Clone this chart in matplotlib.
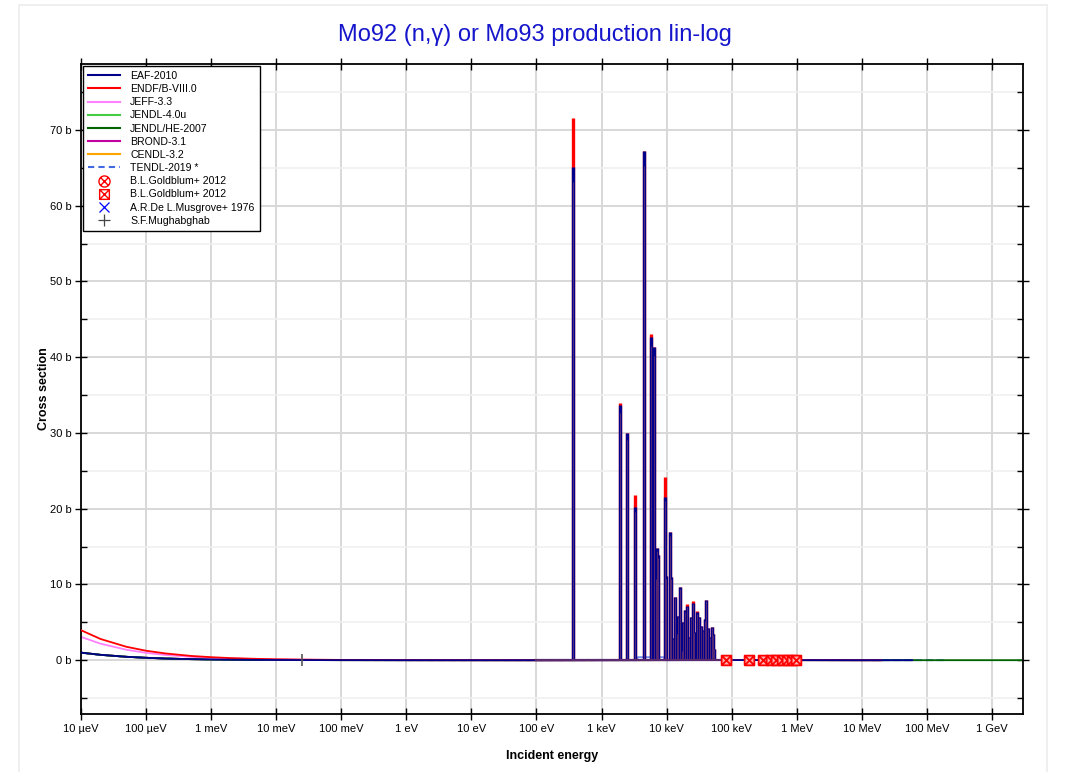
import matplotlib
matplotlib.use("Agg")
import matplotlib.pyplot as plt
from matplotlib.path import Path
from matplotlib.patches import Rectangle
from matplotlib.ticker import FixedLocator, MultipleLocator, NullLocator

plt.rcParams["font.family"] = ["Liberation Sans", "DejaVu Sans"]

# low-energy (1/v) part, in eV and barns
E_LOW = [1e-5, 2e-5, 5e-5, 1e-4, 2e-4, 5e-4, 1e-3, 2e-3, 5e-3, 1e-2, 2.53e-2, 0.1, 1.0, 10.0, 100.0]
ENDF_LOW = [3.96, 2.8, 1.77, 1.25, 0.89, 0.56, 0.40, 0.28, 0.18, 0.125, 0.079, 0.04, 0.0125, 0.004, 0.0015]
JEFF_LOW = [3.08, 2.18, 1.38, 0.97, 0.69, 0.44, 0.31, 0.22, 0.14, 0.097, 0.061, 0.031, 0.0097, 0.003, 0.001]
EAF_LOW = [1.0, 0.71, 0.45, 0.32, 0.22, 0.14, 0.10, 0.071, 0.045, 0.032, 0.02, 0.01, 0.003, 0.001, 0.0003]

# smooth part above the resonances
E_HIGH = [1e5, 1e6, 1e7, 2e7, 6e7, 2e8, 3e9]
SIG_HIGH = [0.02, 0.01, 0.002, 0.001, 0.001, 0.001, 0.001]

# upper energy of each evaluation
END_E = {
    "EAF-2010": 6e7,
    "ENDF/B-VIII.0": 2e7,
    "JEFF-3.3": 2e7,
    "JENDL-4.0u": 2e7,
    "JENDL/HE-2007": 3e9,
    "BROND-3.1": 2e7,
    "CENDL-3.2": 2e7,
    "TENDL-2019 *": 2e8,
}

# resolved resonances (eV) and their peak values (b)
RES_E = [367, 1941, 2426, 3221, 4538, 5816, 6310, 6776, 7185, 7447, 9424, 9772,
         11120, 11800, 12370, 13590, 14590, 15110, 16220, 17010, 18050, 19150,
         20320, 21800, 23400, 25120, 26660, 29650, 31840, 34150, 36640, 38430,
         40760, 42740, 45900, 49240, 51640, 53500]
EAF_PEAK = [65.1, 33.7, 30.0, 20.2, 67.2, 42.7, 41.4, 11.0, 14.8, 13.9, 21.6, 11.1,
            16.9, 11.0, 2.9, 8.4, 3.6, 5.9, 9.7, 1.2, 5.1, 6.6,
            7.2, 3.0, 5.7, 7.6, 3.7, 6.3, 5.7, 4.5, 4.0, 5.4,
            8.0, 4.2, 3.0, 4.4, 3.4, 1.5]
ENDF_PEAK = [71.6, 34.0, 30.0, 21.8, 67.2, 43.1, 41.4, 11.0, 14.8, 13.9, 24.2, 11.1,
             16.9, 11.0, 2.9, 8.4, 3.6, 5.9, 9.7, 1.2, 5.1, 6.6,
             7.4, 3.0, 5.7, 7.8, 3.7, 6.5, 5.7, 4.5, 4.0, 5.4,
             8.0, 4.2, 3.0, 4.4, 3.4, 1.5]

# TENDL averaged curve in the resonance region
TENDL_MID_E = [100, 3500, 3600, 9000, 9500, 1e5]
TENDL_MID = [0.0015, 0.0015, 0.4, 0.4, 0.0, 0.02]

# experimental points
GOLD_SQ_E = [8.1e4, 1.83e5, 3.0e5, 3.98e5, 4.75e5, 5.88e5, 7.02e5, 8.38e5, 9.66e5]
GOLD_SQ = [0.05, 0.05, 0.05, 0.05, 0.05, 0.05, 0.05, 0.05, 0.05]
MUGH_E = [0.0253]
MUGH = [0.06]

X_TICKS = [1e-5, 1e-4, 1e-3, 1e-2, 1e-1, 1, 10, 100, 1e3, 1e4, 1e5, 1e6, 1e7, 1e8, 1e9]
X_LABELS = ["10 µeV", "100 µeV", "1 meV", "10 meV", "100 meV", "1 eV", "10 eV", "100 eV",
            "1 keV", "10 keV", "100 keV", "1 MeV", "10 MeV", "100 MeV", "1 GeV"]
Y_TICKS = [0, 10, 20, 30, 40, 50, 60, 70]

COLORS = {
    "EAF-2010": "#00008b",
    "ENDF/B-VIII.0": "#ff0000",
    "JEFF-3.3": "#ff80ff",
    "JENDL-4.0u": "#44cc44",
    "JENDL/HE-2007": "#006400",
    "BROND-3.1": "#c000a0",
    "CENDL-3.2": "#ffa500",
    "TENDL-2019 *": "#4169e1",
}


def _curve(low, end):
    e = list(E_LOW) + [x for x in E_HIGH if x <= end]
    s = list(low) + [v for x, v in zip(E_HIGH, SIG_HIGH) if x <= end]
    if e[-1] < end:
        e.append(end)
        s.append(SIG_HIGH[-1])
    return e, s


def _marker_boxx():
    return Path.make_compound_path(
        Path([[-1, -1], [1, -1], [1, 1], [-1, 1], [-1, -1]]),
        Path([[-1, -1], [1, 1]]),
        Path([[-1, 1], [1, -1]]),
    )


def _marker_circx():
    return Path.make_compound_path(
        Path.unit_circle(),
        Path([[-0.707, -0.707], [0.707, 0.707]]),
        Path([[-0.707, 0.707], [0.707, -0.707]]),
    )


fig = plt.figure(figsize=(10.67, 7.72), dpi=100)
fig.patches.append(Rectangle((19 / 1067, -0.1), 1028 / 1067, 1.1 - 5 / 772, transform=fig.transFigure,
                             fill=False, edgecolor="#ececec", linewidth=1.2))
ax = fig.add_axes([81 / 1067, 1 - 714 / 772, 942 / 1067, 650 / 772])

order = ["CENDL-3.2", "BROND-3.1", "JENDL-4.0u", "TENDL-2019 *", "JENDL/HE-2007", "JEFF-3.3", "ENDF/B-VIII.0", "EAF-2010"]
lows = {"ENDF/B-VIII.0": ENDF_LOW, "JEFF-3.3": JEFF_LOW}
for z, name in enumerate(order):
    e, s = _curve(lows.get(name, EAF_LOW), END_E[name])
    ls = (0, (4, 2)) if name == "TENDL-2019 *" else "-"
    ax.plot(e, s, color=COLORS[name], lw=1.3, ls=ls, zorder=2 + z * 0.1)

ax.plot(TENDL_MID_E, TENDL_MID, color="#6f8ff0", lw=1.3, zorder=2.5)
ax.vlines(RES_E, 0, ENDF_PEAK, colors=COLORS["ENDF/B-VIII.0"], lw=2.4, zorder=3)
ax.vlines(RES_E, 0, EAF_PEAK, colors=COLORS["EAF-2010"], lw=2.4, zorder=3.1)
ax.vlines(RES_E, 0, [p * 0.97 for p in EAF_PEAK], colors="#7a3a6a", lw=0.5, zorder=3.2)
ax.plot(E_LOW[-1:] + E_HIGH[:1], [0.001, 0.001], color="#5a2a70", lw=1.6, zorder=3.3)

ax.plot(GOLD_SQ_E, GOLD_SQ, ls="none", marker=_marker_boxx(), ms=7, mfc="#ffb0b0", mec="red", mew=1.3, zorder=4)
ax.plot(MUGH_E, MUGH, ls="none", marker="|", ms=9, color="#555555", mew=1.2, zorder=4)

ax.set_xscale("log")
ax.set_xlim(1e-5, 3e9)
ax.set_ylim(-7.1, 78.7)
ax.xaxis.set_major_locator(FixedLocator(X_TICKS))
ax.set_xticklabels(X_LABELS)
ax.xaxis.set_minor_locator(NullLocator())
ax.set_yticks(Y_TICKS)
ax.set_yticklabels([f"{v} b" for v in Y_TICKS])
ax.yaxis.set_minor_locator(MultipleLocator(5))
ax.grid(which="major", color="#d8d8d8", lw=1.4, zorder=0)
ax.grid(which="minor", axis="y", color="#f0f0f0", lw=1.2, zorder=0)
ax.set_axisbelow(True)
ax.tick_params(which="major", direction="inout", length=8, width=1.0, labelsize=8, top=True, right=True, pad=3)
ax.tick_params(which="minor", direction="in", length=4, width=1.0, top=True, right=True)
for sp in ax.spines.values():
    sp.set_linewidth(1.3)

ax.set_xlabel("Incident energy", fontsize=9, fontweight="bold", labelpad=12)
ax.set_ylabel("Cross section", fontsize=9, fontweight="bold", labelpad=0)
fig.text(535 / 1067, 1 - 35 / 772, "Mo92 (n,γ) or Mo93 production lin-log", ha="center", va="center",
         fontsize=17, color="#1515cc")

handles = []
for name in ["EAF-2010", "ENDF/B-VIII.0", "JEFF-3.3", "JENDL-4.0u", "JENDL/HE-2007", "BROND-3.1", "CENDL-3.2", "TENDL-2019 *"]:
    ls = (0, (3, 2)) if name == "TENDL-2019 *" else "-"
    h, = ax.plot([], [], color=COLORS[name], lw=1.5, ls=ls, label=name)
    handles.append(h)
h, = ax.plot([], [], ls="none", marker=_marker_circx(), ms=8, mfc="none", mec="red", mew=1.0, label="B.L.Goldblum+ 2012")
handles.append(h)
h, = ax.plot([], [], ls="none", marker=_marker_boxx(), ms=7, mfc="none", mec="red", mew=1.0, label="B.L.Goldblum+ 2012")
handles.append(h)
h, = ax.plot([], [], ls="none", marker="x", ms=7, color="blue", mew=0.9, label="A.R.De L.Musgrove+ 1976")
handles.append(h)
h, = ax.plot([], [], ls="none", marker="+", ms=9, color="#444444", mew=0.9, label="S.F.Mughabghab")
handles.append(h)
leg = ax.legend(handles=handles, loc="upper left", fontsize=7.6, frameon=True, fancybox=False,
                edgecolor="black", borderaxespad=0.15, labelspacing=0.3, handlelength=3.0,
                handletextpad=1.0, borderpad=0.5)
leg.get_frame().set_linewidth(1.0)
leg.get_frame().set_alpha(1.0)
leg.set_zorder(10)

fig.savefig("out.png", dpi=100)
plt.close(fig)
